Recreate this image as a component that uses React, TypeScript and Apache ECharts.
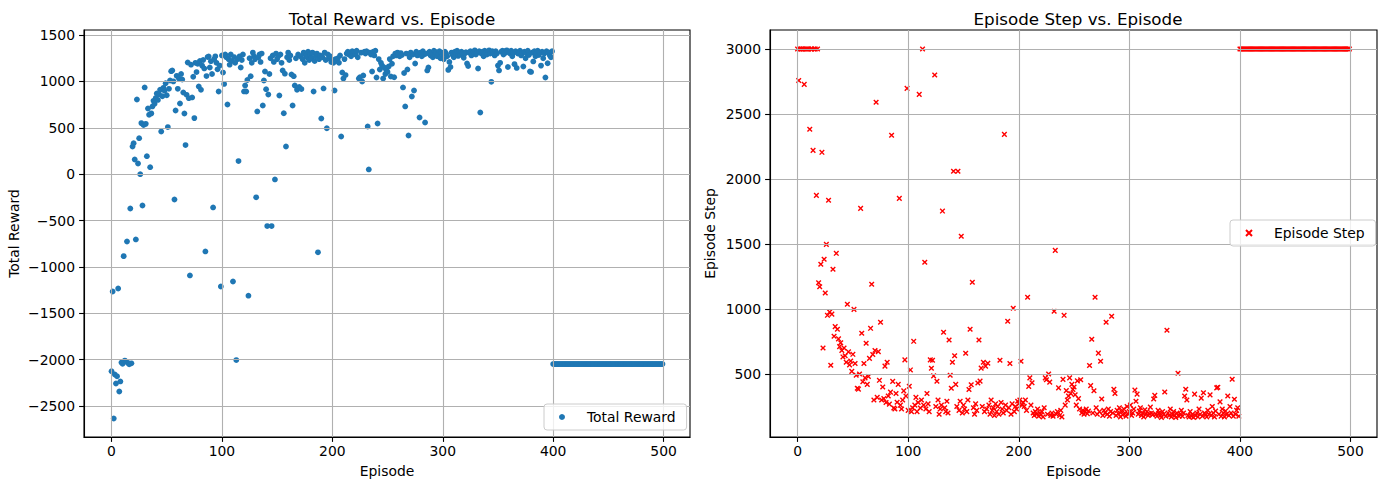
import React, { useEffect, useRef } from "react";
import * as echarts from "echarts";

const FONT = "DejaVu Sans";

const episodeTicks = [0, 100, 200, 300, 400, 500];
const rewardTicks = [-2500, -2000, -1500, -1000, -500, 0, 500, 1000, 1500];
const stepTicks = [500, 1000, 1500, 2000, 2500, 3000];

// Total reward per episode (episodes 0-399)
const rewardLearning = [
  -2124, -1265, -2634, -2160, -2257, -2180, -1233, -2343, -2235, -2030,
  -2045, -884, -2010, -2020, -726, -2035, -2050, -370, -2040, 298,
  334, 158, -704, 805, 115, 388, 0, 550, -338, 530,
  935, 542, 194, 708, 640, 75, 655, 730, 790, 760,
  820, 870, 800, 860, 910, 460, 840, 930, 900, 980,
  850, 507, 920, 1010, 1110, 1117, 1000, -273, 686, 1060,
  920, 1030, 762, 1080, 1020, 880, 654, 313, 855, 1204,
  819, -1092, 1180, 827, 1050, 604, 1200, 1100, 1190, 945,
  1220, 909, 1170, 1230, 1140, -833, 1057, 1262, 1268, 1150,
  1218, 1080, -359, 1240, 1270, 1200, 1130, 891, 1170, -1211,
  1280, 1095, 973, 1290, 1260, 751, 1240, 1180, 1290, 1220,
  -1157, 1262, 1200, -2005, 1240, 141, 1270, 1150, 1230, 1290,
  892, 956, 891, 1015, -1310, 1250, 1056, 1200, 1310, 1270,
  1240, -250, 676, 1260, 1290, 1210, 1300, 740, 1010, 1107,
  916, -560, 859, 1080, 1250, -560, 1280, 1210, -57, 1300,
  1240, 1270, 848, 1290, 1200, 1118, 656, 1083, 298, 1260,
  1310, 1230, 1280, 1075, 740, 1056, 956, 1250, 909, 1290,
  940, 1270, 918, 1240, 1310, 1200, 1280, 1260, 1320, 1230,
  1290, 1250, 1310, 891, 1220, 1270, 1300, -843, 1240, 1280,
  600, 1260, 924, 1310, 1230, 495, 1290, 1250, 1270, 1210,
  1230, 1200, 902, 1240, 1220, 1250, 1200, 1280, 406, 1096,
  1031, 1240, 1068, 1300, 1320, 1290, 1310, 1270, 1325, 1300,
  1315, 1290, 1330, 1260, 1031, 1045, 1310, 999, 1063, 1320,
  1300, 1325, 514, 51, 1310, 1290, 1107, 1320, 1280, 1330,
  1042, 546, 1240, 1128, 1200, 1170, 1030, 1150, 1080, 1120,
  1100, 1160, 1240, 1053, 1190, 1270, 1045, 1300, 1280, 1310,
  1290, 1270, 1305, 1285, 935, 1090, 730, 1300, 1129, 417,
  1260, 1310, 837, 1290, 902, 1193, 1320, 1280, 1300, 611,
  1310, 1270, 1325, 1290, 557, 1300, 1118, 1150, 1320, 1280,
  1305, 1260, 1330, 1290, 1315, 1270, 1300, 1325, 1250, 1310,
  1290, 1240, 1320, 1300, 1270, 1124, 1210, 1155, 1310, 1285,
  1260, 1320, 1300, 1330, 1275, 1310, 1290, 1320, 1305, 1255,
  1300, 1315, 1193, 1165, 1310, 1325, 1280, 1300, 1320, 1335,
  1290, 1310, 1139, 1325, 665, 1300, 1320, 1270, 1330, 1310,
  1290, 1320, 1335, 1300, 995, 1325, 1310, 1280, 1325, 1300,
  1170, 1118, 1200, 1320, 1330, 1290, 1325, 1310, 1335, 1155,
  1320, 1300, 1330, 1270, 1310, 1186, 1325, 1145, 1300, 1315,
  1330, 1280, 1310, 1161, 1320, 1250, 1300, 1330, 1285, 1107,
  1102, 1310, 1215, 1325, 1270, 1300, 1330, 1285, 1310, 1170,
  1320, 1250, 1300, 1042, 1325, 1195, 1310, 1280, 1260, 1325,
];

// Total reward per episode (episodes 400-499)
const rewardTail = [
  -2048, -2048, -2048, -2048, -2048, -2048, -2048, -2048, -2048, -2048,
  -2048, -2048, -2048, -2048, -2048, -2048, -2048, -2048, -2048, -2048,
  -2048, -2048, -2048, -2048, -2048, -2048, -2048, -2048, -2048, -2048,
  -2048, -2048, -2048, -2048, -2048, -2048, -2048, -2048, -2048, -2048,
  -2048, -2048, -2048, -2048, -2048, -2048, -2048, -2048, -2048, -2048,
  -2048, -2048, -2048, -2048, -2048, -2048, -2048, -2048, -2048, -2048,
  -2048, -2048, -2048, -2048, -2048, -2048, -2048, -2048, -2048, -2048,
  -2048, -2048, -2048, -2048, -2048, -2048, -2048, -2048, -2048, -2048,
  -2048, -2048, -2048, -2048, -2048, -2048, -2048, -2048, -2048, -2048,
  -2048, -2048, -2048, -2048, -2048, -2048, -2048, -2048, -2048, -2048,
];

// Episode steps per episode (episodes 0-399)
const stepLearning = [
  3000, 2758, 3000, 3000, 3000, 3000, 2728, 3000, 3000, 3000,
  3000, 2382, 3000, 3000, 2220, 3000, 3000, 1874, 3000, 1202,
  1171, 1344, 2205, 700, 1382, 1123, 1497, 951, 1836, 977,
  567, 960, 1305, 790, 864, 1428, 844, 770, 710, 740,
  680, 631, 700, 640, 590, 1036, 670, 570, 600, 520,
  651, 997, 580, 490, 390, 383, 500, 1774, 813, 440,
  580, 470, 736, 420, 480, 620, 851, 1190, 650, 300,
  680, 2590, 320, 672, 451, 898, 300, 400, 310, 560,
  280, 590, 330, 268, 360, 2336, 443, 238, 230, 350,
  282, 420, 1851, 260, 230, 300, 370, 608, 330, 2697,
  220, 405, 531, 210, 240, 751, 260, 320, 210, 280,
  2651, 238, 300, 3000, 260, 1359, 230, 350, 270, 210,
  608, 544, 605, 485, 2800, 250, 444, 300, 190, 230,
  260, 1753, 821, 240, 210, 290, 200, 761, 490, 390,
  590, 2059, 640, 420, 250, 2059, 220, 290, 1559, 200,
  260, 230, 659, 210, 300, 380, 844, 417, 1205, 240,
  190, 270, 220, 430, 761, 445, 545, 250, 590, 210,
  560, 230, 582, 260, 190, 300, 220, 240, 180, 270,
  210, 250, 190, 605, 280, 230, 200, 2343, 260, 220,
  905, 240, 580, 190, 270, 1005, 210, 250, 230, 290,
  270, 300, 598, 260, 280, 250, 300, 220, 1090, 404,
  470, 260, 432, 200, 180, 210, 190, 230, 175, 200,
  185, 210, 170, 240, 470, 455, 190, 500, 437, 180,
  200, 175, 982, 1451, 190, 210, 393, 180, 220, 170,
  458, 951, 260, 372, 300, 330, 470, 350, 420, 380,
  400, 340, 260, 447, 310, 230, 455, 200, 220, 190,
  210, 230, 195, 215, 565, 410, 767, 200, 371, 1090,
  240, 190, 660, 210, 598, 307, 180, 220, 200, 898,
  190, 230, 175, 210, 944, 200, 382, 350, 180, 220,
  195, 240, 170, 210, 185, 230, 200, 175, 250, 190,
  210, 260, 180, 200, 230, 376, 290, 345, 190, 215,
  240, 180, 200, 170, 225, 190, 210, 180, 195, 245,
  200, 185, 307, 335, 190, 175, 220, 200, 180, 165,
  210, 190, 361, 175, 836, 200, 180, 230, 170, 190,
  210, 180, 165, 200, 505, 175, 190, 220, 175, 200,
  330, 382, 300, 180, 170, 210, 175, 190, 165, 345,
  180, 200, 170, 230, 190, 314, 175, 355, 200, 185,
  170, 220, 190, 339, 180, 250, 200, 170, 215, 393,
  398, 190, 285, 175, 230, 200, 170, 215, 190, 330,
  180, 250, 200, 459, 175, 305, 190, 220, 240, 175,
];

// Episode steps per episode (episodes 400-499)
const stepTail = [
  3000, 3000, 3000, 3000, 3000, 3000, 3000, 3000, 3000, 3000,
  3000, 3000, 3000, 3000, 3000, 3000, 3000, 3000, 3000, 3000,
  3000, 3000, 3000, 3000, 3000, 3000, 3000, 3000, 3000, 3000,
  3000, 3000, 3000, 3000, 3000, 3000, 3000, 3000, 3000, 3000,
  3000, 3000, 3000, 3000, 3000, 3000, 3000, 3000, 3000, 3000,
  3000, 3000, 3000, 3000, 3000, 3000, 3000, 3000, 3000, 3000,
  3000, 3000, 3000, 3000, 3000, 3000, 3000, 3000, 3000, 3000,
  3000, 3000, 3000, 3000, 3000, 3000, 3000, 3000, 3000, 3000,
  3000, 3000, 3000, 3000, 3000, 3000, 3000, 3000, 3000, 3000,
  3000, 3000, 3000, 3000, 3000, 3000, 3000, 3000, 3000, 3000,
];

const minusFmt = (v: number) => String(v).replace("-", "\u2212");

function makeXAxis(gridIndex: number) {
  return {
    type: "value",
    gridIndex,
    min: -24.95,
    max: 523.95,
    z: 3,
    axisLine: { show: true, onZero: false, lineStyle: { color: "#000", width: 1.1 } },
    axisTick: {
      show: true,
      inside: false,
      length: 4.9,
      customValues: episodeTicks,
      lineStyle: { color: "#000", width: 1.1 },
    },
    axisLabel: {
      customValues: episodeTicks,
      color: "#000",
      fontSize: 13.9,
      fontFamily: FONT,
      margin: 7,
      formatter: minusFmt,
    },
    splitLine: { show: true, lineStyle: { color: "#b0b0b0", width: 1.1 } },
    name: "Episode",
    nameLocation: "middle",
    nameGap: 27,
    nameTextStyle: { color: "#000", fontSize: 13.9, fontFamily: FONT },
  };
}

function makeYAxis(gridIndex: number, min: number, max: number, ticks: number[], name: string, gap: number) {
  return {
    type: "value",
    gridIndex,
    min,
    max,
    z: 3,
    axisLine: { show: true, onZero: false, lineStyle: { color: "#000", width: 1.1 } },
    axisTick: {
      show: true,
      inside: false,
      length: 4.9,
      customValues: ticks,
      lineStyle: { color: "#000", width: 1.1 },
    },
    axisLabel: {
      customValues: ticks,
      color: "#000",
      fontSize: 13.9,
      fontFamily: FONT,
      margin: 9,
      formatter: minusFmt,
    },
    splitLine: { show: true, lineStyle: { color: "#b0b0b0", width: 1.1 } },
    name,
    nameLocation: "middle",
    nameGap: gap,
    nameTextStyle: { color: "#000", fontSize: 13.9, fontFamily: FONT },
  };
}

function legendOf(name: string, left: number, top: number) {
  return {
    data: [name],
    left,
    top,
    orient: "vertical",
    itemWidth: 40,
    itemHeight: 6,
    padding: [6, 11, 6, 15],
    backgroundColor: "rgba(255,255,255,0.8)",
    borderColor: "#cccccc",
    borderWidth: 1,
    borderRadius: 3,
    textStyle: { color: "#000", fontSize: 13.9, fontFamily: FONT },
  };
}

export default function App() {
  const ref = useRef<HTMLDivElement>(null);

  useEffect(() => {
    document.body.style.margin = "0";
    if (!ref.current) return;
    const chart = echarts.init(ref.current, undefined, { renderer: "svg" });

    const rewards = rewardLearning.concat(rewardTail);
    const steps = stepLearning.concat(stepTail);
    const rewardData = rewards.map((v, i) => [i, v]);
    const stepData = steps.map((v, i) => [i, v]);

    chart.setOption({
      animation: false,
      backgroundColor: "#ffffff",
      title: [
        {
          text: "Total Reward vs. Episode",
          left: 387,
          top: 5,
          textAlign: "center",
          textStyle: { color: "#000", fontSize: 16.7, fontWeight: "normal", fontFamily: FONT },
        },
        {
          text: "Episode Step vs. Episode",
          left: 1073,
          top: 5,
          textAlign: "center",
          textStyle: { color: "#000", fontSize: 16.7, fontWeight: "normal", fontFamily: FONT },
        },
      ],
      grid: [
        { left: 84, top: 30, width: 606, height: 407, show: true, borderColor: "#000", borderWidth: 1.1, backgroundColor: "transparent" },
        { left: 770, top: 30, width: 607, height: 407, show: true, borderColor: "#000", borderWidth: 1.1, backgroundColor: "transparent" },
      ],
      xAxis: [makeXAxis(0), makeXAxis(1)],
      yAxis: [
        makeYAxis(0, -2834, 1554, rewardTicks, "Total Reward", 63),
        makeYAxis(1, 15, 3146, stepTicks, "Episode Step", 53),
      ],
      legend: [legendOf("Total Reward", 544, 404), legendOf("Episode Step", 1230, 220)],
      series: [
        {
          name: "Total Reward",
          type: "scatter",
          xAxisIndex: 0,
          yAxisIndex: 0,
          data: rewardData,
          symbol: "circle",
          symbolSize: 5.8,
          itemStyle: { color: "#1f77b4", opacity: 1 },
        },
        {
          name: "Episode Step",
          type: "scatter",
          xAxisIndex: 1,
          yAxisIndex: 1,
          data: stepData,
          symbol: "path://M0 0L10 10M0 10L10 0",
          symbolSize: 4.6,
          itemStyle: { color: "#ff0000", borderColor: "#ff0000", borderWidth: 1.4, opacity: 1 },
        },
      ],
    });

    return () => {
      chart.dispose();
    };
  }, []);

  return <div ref={ref} style={{ width: 1386, height: 485 }} />;
}
